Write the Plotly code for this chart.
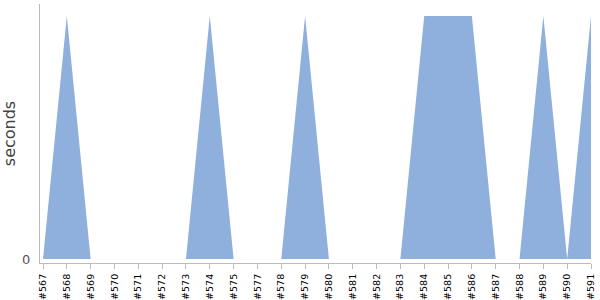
import plotly.graph_objects as go

builds = ["#567", "#568", "#569", "#570", "#571", "#572", "#573", "#574", "#575",
          "#577", "#578", "#579", "#580", "#581", "#582", "#583", "#584", "#585",
          "#586", "#587", "#588", "#589", "#590", "#591"]
seconds = [0, 1, 0, 0, 0, 0, 0, 1, 0,
           0, 0, 1, 0, 0, 0, 0, 1, 1,
           1, 0, 0, 1, 0, 1]

fig = go.Figure()
fig.add_trace(go.Scatter(
    x=list(range(len(builds))), y=seconds, mode="none", fill="tozeroy",
    fillcolor="rgb(143,176,220)", hoverinfo="skip", showlegend=False,
))
fig.update_layout(
    width=600, height=300,
    margin=dict(l=40, r=9, t=4, b=37),
    plot_bgcolor="white", paper_bgcolor="white",
    font=dict(family="DejaVu Sans", color="#333"),
)
fig.update_xaxes(
    range=[-0.126, 23], tickmode="array", tickvals=list(range(len(builds))),
    ticktext=builds, tickangle=-90, tickfont=dict(size=9.5, color="#000"),
    showgrid=False, zeroline=False, showline=True, linecolor="#bbb",
    ticks="outside", ticklen=5, tickcolor="#bbb", automargin=False,
    ticklabelstandoff=1,
)
fig.update_yaxes(
    range=[-0.0165, 1.049], tickvals=[0], ticktext=["0"],
    tickfont=dict(size=13, color="#555"), ticklabelstandoff=6,
    showgrid=False, zeroline=False, showline=True, linecolor="#bbb",
    automargin=False,
    title=dict(text="seconds", font=dict(size=16, color="#444"), standoff=8),
)
fig.write_html("out.html")
